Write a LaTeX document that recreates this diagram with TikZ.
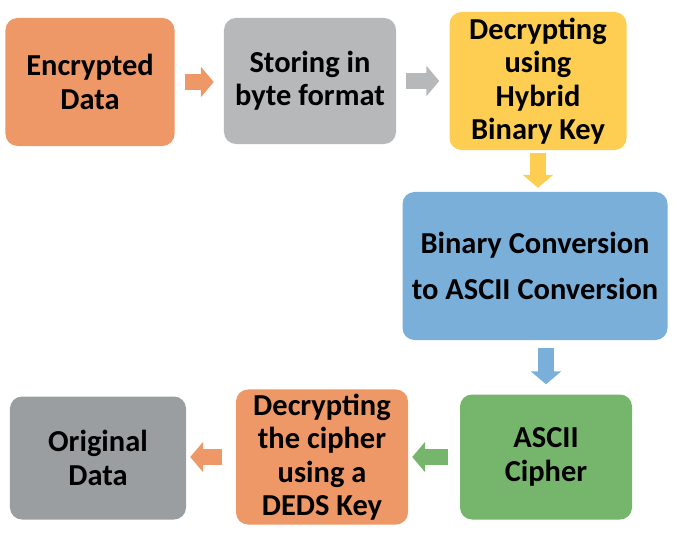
\documentclass[tikz,border=0pt]{standalone}
\usepackage{fontspec}
\setmainfont{Carlito}
\usetikzlibrary{arrows.meta}
\definecolor{encorange}{RGB}{237,152,102}
\definecolor{storegray}{RGB}{183,184,186}
\definecolor{keyyellow}{RGB}{253,206,82}
\definecolor{convblue}{RGB}{122,175,218}
\definecolor{ciphergreen}{RGB}{118,182,108}
\definecolor{origgray}{RGB}{155,158,160}
\begin{document}
\begin{tikzpicture}[x=0.03cm, y=-0.03cm,
  box/.style={rounded corners=0.36cm, inner sep=0pt, align=center, font=\fontsize{26}{28.5}\selectfont\bfseries},
  flow/.style={line width=0.48cm, -{Triangle[length=0.39cm, width=0.9cm]}, shorten <=0.3cm, shorten >=0.3cm}]
\useasboundingbox (0,0) rectangle (677,541);
\node[box, fill=encorange, minimum width=5.07cm, minimum height=3.84cm] (enc) at (90,82) {Encrypted\\Data};
\node[box, fill=storegray, minimum width=5.16cm, minimum height=3.78cm] (store) at (310,81) {Storing in\\byte format};
\node[box, fill=keyyellow, minimum width=5.31cm, minimum height=4.14cm] (dec) at (538,81) {Decrypting\\using\\Hybrid\\Binary Key};
\node[box, fill=convblue, minimum width=7.95cm, minimum height=4.44cm, font=\fontsize{26}{39}\selectfont\bfseries] (conv) at (535,266) {Binary Conversion\\to ASCII Conversion};
\node[box, fill=ciphergreen, minimum width=5.16cm, minimum height=3.75cm] (cipher) at (546,457) {ASCII\\Cipher};
\node[box, fill=encorange, minimum width=5.16cm, minimum height=4.05cm] (deds) at (322,457) {Decrypting\\the cipher\\using a\\DEDS Key};
\node[box, fill=origgray, minimum width=5.28cm, minimum height=3.69cm] (orig) at (98,458) {Original\\Data};
\draw[flow, encorange] (enc.east) -- (enc.east -| store.west);
\draw[flow, storegray] (store.east) -- (store.east -| dec.west);
\draw[flow, keyyellow, shorten <=0.08cm, shorten >=0.12cm] (dec.south) -- (dec.south |- conv.north);
\draw[flow, convblue, shorten <=0.24cm] (cipher.north |- conv.south) -- (cipher.north);
\draw[flow, ciphergreen, shorten <=0.36cm, shorten >=0.12cm] (cipher.west) -- (cipher.west -| deds.east);
\draw[flow, encorange, shorten <=0.42cm, shorten >=0.12cm] (deds.west) -- (deds.west -| orig.east);
\end{tikzpicture}
\end{document}
